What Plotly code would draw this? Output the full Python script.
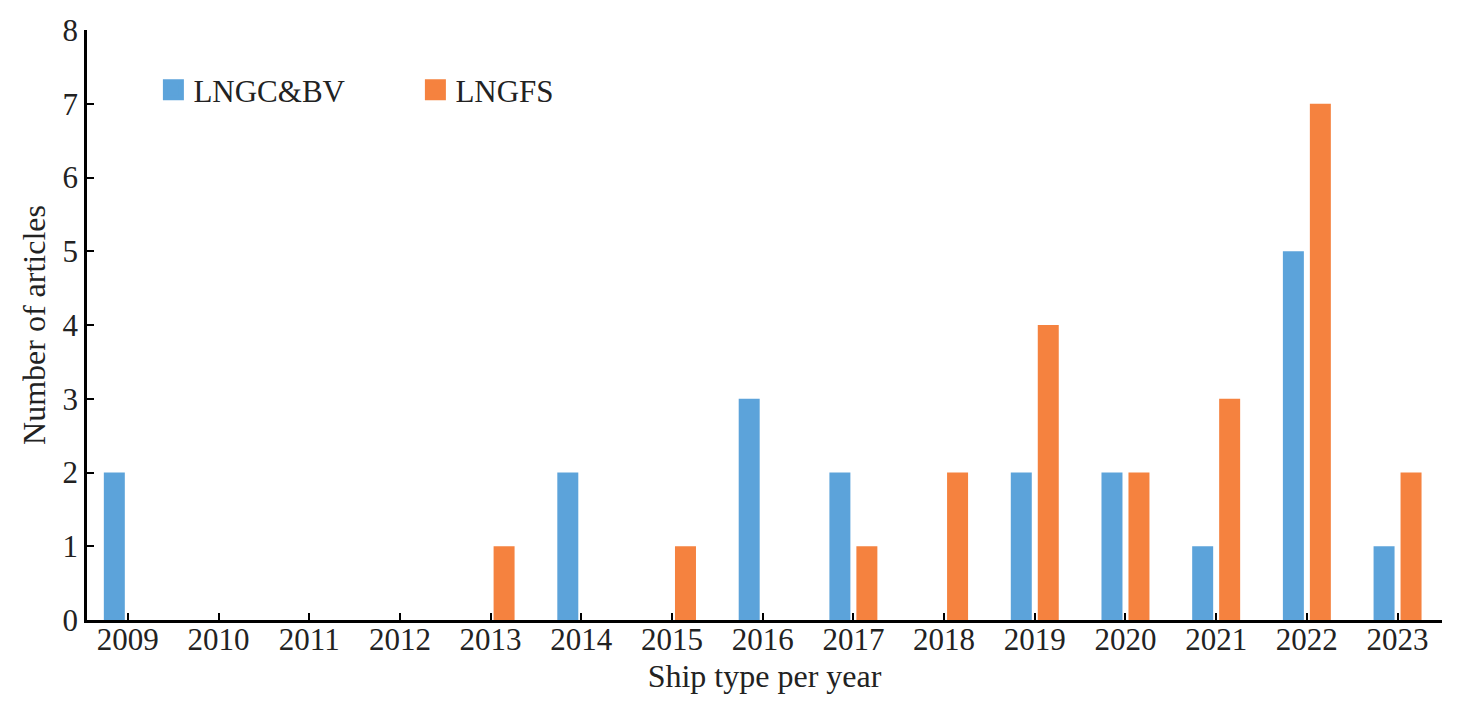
import plotly.graph_objects as go

years = ["2009", "2010", "2011", "2012", "2013", "2014", "2015", "2016",
         "2017", "2018", "2019", "2020", "2021", "2022", "2023"]
lngc_bv = [2, 0, 0, 0, 0, 2, 0, 3, 2, 0, 2, 2, 1, 5, 1]
lngfs = [0, 0, 0, 0, 1, 0, 1, 0, 1, 2, 4, 2, 3, 7, 2]
y_ticks = [0, 1, 2, 3, 4, 5, 6, 7, 8]
series_names = ["LNGC&BV", "LNGFS"]
colors = ["#5CA3DA", "#F5823F"]

xpos = list(range(len(years)))
FONT = "Liberation Serif"
TXT = "#222222"

fig = go.Figure()
for name, vals, col in zip(series_names, [lngc_bv, lngfs], colors):
    fig.add_trace(go.Bar(x=xpos, y=vals, name=name, showlegend=False,
                         marker=dict(color=col, line=dict(width=0))))
# legend entries with larger square swatches
for name, col in zip(series_names, colors):
    fig.add_trace(go.Scatter(x=[None], y=[None], mode="markers", name=name,
                             marker=dict(symbol="square", size=16, color=col,
                                         line=dict(color=col, width=5))))

fig.update_layout(
    width=1454, height=698,
    margin=dict(l=79, r=20, t=22, b=86, autoexpand=False),
    paper_bgcolor="white", plot_bgcolor="white",
    barmode="group", bargap=0.405, bargroupgap=0.222,
    font=dict(family=FONT, color=TXT),
    legend=dict(orientation="h", x=0.049, y=0.898, xanchor="left", yanchor="middle",
                font=dict(size=31, family="Liberation Serif, serif", color=TXT),
                entrywidth=217, entrywidthmode="pixels", itemwidth=30,
                bgcolor="rgba(0,0,0,0)"),
    xaxis=dict(
        range=[-0.45, 14.49], automargin=False,
        tickmode="array",
        tickvals=xpos + [14.49],
        ticktext=years + [""],
        ticks="inside", ticklen=7, tickwidth=2, tickcolor="black",
        ticklabelstandoff=-10,
        showline=True, linecolor="black", linewidth=2.5,
        showgrid=False, zeroline=False,
        tickfont=dict(size=31, family=FONT, color=TXT),
        title=dict(text="Ship type per year", font=dict(size=32, family=FONT, color=TXT),
                   standoff=9),
    ),
    yaxis=dict(
        range=[0, 8], automargin=False,
        tickmode="array", tickvals=y_ticks,
        ticks="inside", ticklen=7, tickwidth=2, tickcolor="black",
        showline=True, linecolor="black", linewidth=2.5,
        showgrid=False, zeroline=False,
        tickfont=dict(size=31, family=FONT, color=TXT),
        title=dict(text="Number of articles", font=dict(size=32, family=FONT, color=TXT),
                   standoff=8),
    ),
)

fig.write_html("out.html")
